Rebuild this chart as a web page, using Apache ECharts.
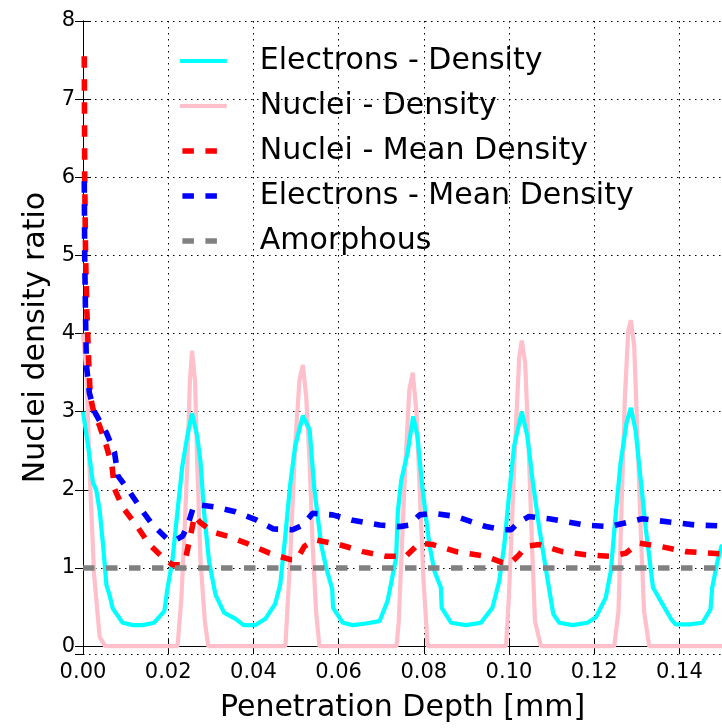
<!DOCTYPE html>
<html>
<head>
<meta charset="utf-8">
<script src="https://cdn.jsdelivr.net/npm/echarts@6/dist/echarts.min.js"></script>
<style>
  html, body { margin: 0; padding: 0; background: #fff; }
  #chart { width: 722px; height: 728px; }
</style>
</head>
<body>
<div id="chart"></div>
<script>
// x in mm, y = density ratio
var electronsDensity = [
  [0, 3.0], [0.0012, 2.56], [0.0023, 2.1], [0.0031, 2.0], [0.0039, 1.74], [0.0047, 1.3], [0.0055, 0.78],
  [0.0062, 0.66], [0.007, 0.48], [0.0093, 0.3], [0.0117, 0.27], [0.014, 0.27], [0.0167, 0.3],
  [0.0191, 0.45], [0.0198, 0.73], [0.021, 1.1], [0.0222, 1.74], [0.0233, 2.3], [0.0245, 2.69],
  [0.0256, 2.98], [0.0268, 2.69], [0.0276, 2.35], [0.0284, 1.72], [0.0296, 1.08], [0.0311, 0.66],
  [0.0331, 0.43], [0.0358, 0.35], [0.0377, 0.27], [0.0405, 0.27], [0.0428, 0.35], [0.0451, 0.54],
  [0.0463, 0.79], [0.0475, 1.42], [0.0486, 2.05], [0.0498, 2.56], [0.0516, 2.95], [0.0532, 2.77],
  [0.0543, 2.01], [0.0559, 1.3], [0.0571, 1.0], [0.0585, 0.73], [0.0587, 0.49], [0.061, 0.3],
  [0.0633, 0.27], [0.0664, 0.29], [0.0696, 0.32], [0.0715, 0.58], [0.0735, 1.13], [0.0739, 1.72],
  [0.0747, 2.12], [0.0762, 2.48], [0.0775, 2.94], [0.0785, 2.69], [0.0797, 2.01], [0.0813, 1.3],
  [0.0825, 0.96], [0.084, 0.75], [0.0842, 0.49], [0.0864, 0.3], [0.0899, 0.27], [0.0934, 0.3],
  [0.0961, 0.49], [0.0977, 0.83], [0.0989, 1.3], [0.1, 1.93], [0.1012, 2.56], [0.103, 3.0],
  [0.1043, 2.69], [0.1055, 2.14], [0.1071, 1.51], [0.109, 0.87], [0.1104, 0.41], [0.1118, 0.3],
  [0.1149, 0.27], [0.1184, 0.3], [0.1204, 0.37], [0.1227, 0.62], [0.1239, 0.96], [0.1251, 1.72],
  [0.1262, 2.35], [0.1276, 2.86], [0.1286, 3.05], [0.1297, 2.77], [0.1309, 2.14], [0.1321, 1.51],
  [0.1338, 0.75], [0.1356, 0.58], [0.138, 0.35], [0.1391, 0.28], [0.1423, 0.28], [0.1454, 0.3],
  [0.1473, 0.47], [0.1477, 0.75], [0.1489, 1.08], [0.15, 1.3]
];
var nucleiDensity = [
  [0, 4.0], [0.0008, 3.5], [0.0016, 2.18], [0.0026, 0.92], [0.0039, 0.12], [0.0052, 0],
  [0.0222, 0], [0.0231, 0.62], [0.0237, 1.3], [0.0245, 2.35], [0.0251, 3.4], [0.0256, 3.78],
  [0.0263, 3.4], [0.0268, 2.35], [0.0276, 1.08], [0.0286, 0.32], [0.0294, 0],
  [0.0475, 0], [0.0486, 1.08], [0.0498, 2.56], [0.0508, 3.4], [0.0516, 3.6], [0.0524, 3.19],
  [0.0532, 2.35], [0.0539, 1.3], [0.0547, 0.45], [0.0555, 0],
  [0.0736, 0], [0.0741, 0.3], [0.0747, 1.08], [0.0757, 2.35], [0.0766, 3.28], [0.0774, 3.5],
  [0.0783, 2.98], [0.0791, 1.93], [0.0799, 0.87], [0.0809, 0],
  [0.0993, 0], [0.1, 0.66], [0.1008, 1.72], [0.1016, 2.77], [0.1024, 3.7], [0.103, 3.91],
  [0.1038, 3.62], [0.1046, 2.56], [0.1054, 1.3], [0.1061, 0.32], [0.1075, 0],
  [0.1247, 0], [0.1257, 0.45], [0.1265, 1.93], [0.1272, 3.19], [0.128, 4.04], [0.1286, 4.17],
  [0.1294, 3.83], [0.1301, 2.77], [0.1309, 1.51], [0.1317, 0.45], [0.1329, 0], [0.15, 0]
];
var nucleiMean = [
  [0.0003, 7.55], [0.0004, 6.0], [0.0006, 5.0], [0.0009, 4.3], [0.0013, 3.7], [0.0017, 3.2],
  [0.0025, 3.0], [0.0039, 2.82], [0.0055, 2.56], [0.0068, 2.31], [0.0074, 2.01], [0.0094, 1.77],
  [0.0125, 1.55], [0.0156, 1.3], [0.0188, 1.13], [0.0211, 1.04], [0.0228, 1.04], [0.0242, 1.15],
  [0.0254, 1.46], [0.0262, 1.67], [0.0274, 1.59], [0.0305, 1.46], [0.0344, 1.4], [0.0383, 1.32],
  [0.0438, 1.19], [0.0485, 1.11], [0.0502, 1.11], [0.052, 1.28], [0.0547, 1.36], [0.0602, 1.3],
  [0.0657, 1.21], [0.0711, 1.15], [0.0758, 1.15], [0.079, 1.32], [0.0821, 1.3], [0.0876, 1.21],
  [0.0946, 1.15], [0.0985, 1.07], [0.1005, 1.07], [0.1024, 1.17], [0.104, 1.28], [0.1071, 1.3],
  [0.1125, 1.21], [0.118, 1.17], [0.1235, 1.15], [0.1274, 1.19], [0.1305, 1.32], [0.1352, 1.28],
  [0.1415, 1.21], [0.15, 1.18]
];
var electronsMean = [
  [0.0003, 5.95], [0.0004, 5.0], [0.0006, 4.2], [0.0008, 3.6], [0.0015, 3.24], [0.0027, 3.0],
  [0.0055, 2.73], [0.0074, 2.48], [0.0082, 2.18], [0.011, 1.97], [0.0141, 1.72], [0.0164, 1.55],
  [0.0196, 1.38], [0.0218, 1.36], [0.0234, 1.41], [0.0246, 1.55], [0.0258, 1.76], [0.027, 1.81],
  [0.0311, 1.78], [0.0358, 1.72], [0.0405, 1.62], [0.0447, 1.5], [0.0492, 1.49], [0.0516, 1.55],
  [0.0539, 1.7], [0.0586, 1.68], [0.0633, 1.61], [0.0696, 1.55], [0.0743, 1.53], [0.0766, 1.55],
  [0.079, 1.68], [0.0821, 1.7], [0.0876, 1.66], [0.0946, 1.53], [0.0985, 1.49], [0.1005, 1.49],
  [0.1024, 1.59], [0.1047, 1.66], [0.1094, 1.63], [0.118, 1.55], [0.1235, 1.53], [0.1282, 1.59],
  [0.1313, 1.63], [0.1376, 1.59], [0.1438, 1.55], [0.15, 1.54]
];
var amorphous = [[0, 1.0], [0.15, 1.0]];

var legendNames = ['Electrons - Density', 'Nuclei - Density', 'Nuclei - Mean Density',
  'Electrons - Mean Density', 'Amorphous'];

var font = 'DejaVu Sans';
var dots = [1.5, 4.5];
var dash = [11.5, 11.5];

var chart = echarts.init(document.getElementById('chart'));

function lineSeries(name, data, color, width, type) {
  return {
    name: name,
    type: 'line',
    data: data,
    symbol: 'none',
    lineStyle: { color: color, width: width, type: type, cap: 'butt' },
    itemStyle: { color: color },
    emphasis: { disabled: true }
  };
}

chart.setOption({
  animation: false,
  textStyle: { fontFamily: font },
  grid: { left: 83, top: 21, width: 640, height: 639 },
  legend: {
    data: legendNames,
    orient: 'vertical',
    left: 177,
    top: 46,
    padding: 0,
    itemWidth: 47,
    itemHeight: 14,
    itemGap: 15,
    selectedMode: false,
    lineStyle: { width: 'inherit', dashOffset: 20.4 },
    itemStyle: { opacity: 0 },
    textStyle: { fontFamily: font, fontSize: 30, lineHeight: 30, color: '#000', padding: [0, 0, 0, 28] }
  },
  xAxis: [{
    type: 'value',
    min: 0,
    max: 0.15,
    interval: 0.02,
    position: 'bottom',
    name: 'Penetration Depth [mm]',
    nameLocation: 'middle',
    nameGap: 39,
    nameTextStyle: { fontFamily: font, fontSize: 30, color: '#000' },
    axisLine: { lineStyle: { color: '#000', width: 1 } },
    axisTick: { inside: true, length: 8, lineStyle: { color: '#000' } },
    axisLabel: {
      fontFamily: font, fontSize: 21, color: '#000', margin: 8,
      showMaxLabel: false,
      formatter: function (v) { return v.toFixed(2); }
    },
    splitLine: { show: true, lineStyle: { color: '#000', type: dots, width: 1 } }
  }, {
    type: 'value',
    min: 0,
    max: 0.15,
    interval: 0.02,
    position: 'top',
    axisLine: { lineStyle: { color: '#000', width: 1 } },
    axisTick: { inside: true, length: 8, lineStyle: { color: '#000' } },
    axisLabel: { show: false },
    splitLine: { show: false }
  }],
  yAxis: [{
    type: 'value',
    min: -0.1,
    max: 8,
    splitNumber: 8,
    minInterval: 1,
    maxInterval: 1,
    position: 'left',
    name: 'Nuclei density ratio',
    nameLocation: 'middle',
    nameGap: 32,
    nameTextStyle: { fontFamily: font, fontSize: 30, color: '#000' },
    axisLine: { lineStyle: { color: '#000', width: 1 } },
    axisTick: { inside: true, length: 8, lineStyle: { color: '#000' } },
    axisLabel: { fontFamily: font, fontSize: 21, color: '#000', margin: 8, showMinLabel: false },
    splitLine: { show: true, lineStyle: { color: '#000', type: dots, width: 1 } }
  }, {
    type: 'value',
    min: -0.1,
    max: 8,
    splitNumber: 8,
    minInterval: 1,
    maxInterval: 1,
    position: 'right',
    axisLine: { lineStyle: { color: '#000', width: 1 } },
    axisTick: { inside: true, length: 8, lineStyle: { color: '#000' } },
    axisLabel: { show: false },
    splitLine: { show: false }
  }],
  series: [
    lineSeries('Nuclei - Density', nucleiDensity, '#ffc0cb', 4.2, 'solid'),
    lineSeries('Electrons - Density', electronsDensity, '#00ffff', 4.2, 'solid'),
    lineSeries('Nuclei - Mean Density', nucleiMean, '#ff0000', 5.6, dash),
    lineSeries('Electrons - Mean Density', electronsMean, '#0000ff', 5.6, dash),
    lineSeries('Amorphous', amorphous, '#808080', 5.6, dash)
  ]
});
</script>
</body>
</html>
